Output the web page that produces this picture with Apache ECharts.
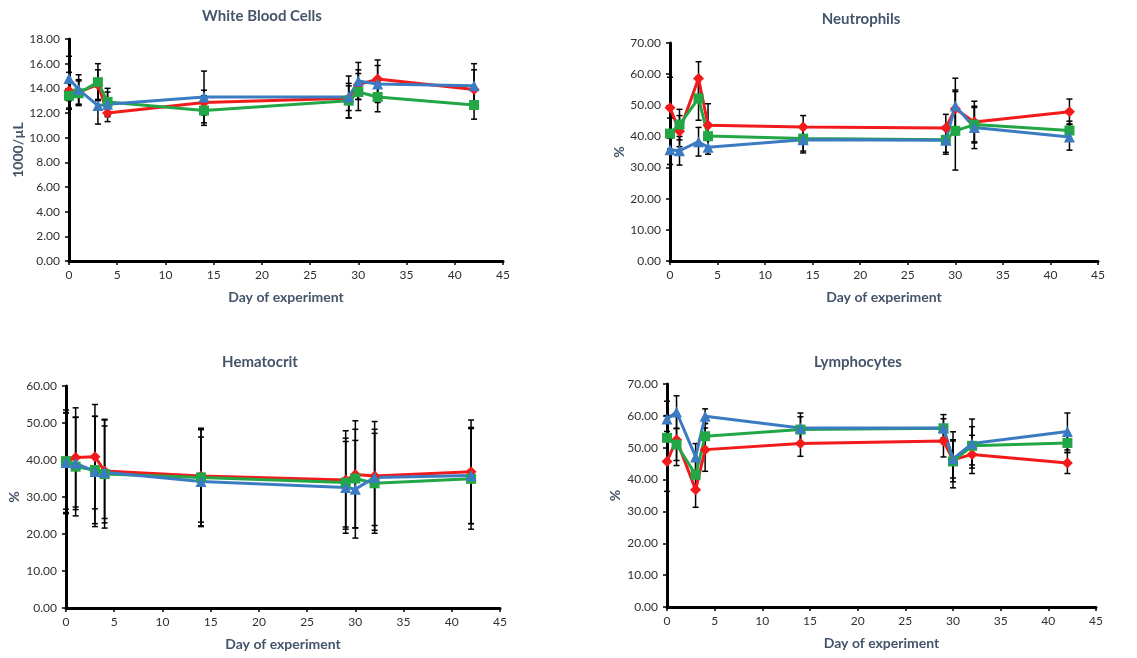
<!DOCTYPE html>
<html><head><meta charset="utf-8">
<script src="https://cdn.jsdelivr.net/npm/echarts@6/dist/echarts.min.js"></script>
<style>html,body{margin:0;padding:0;background:#fff}#c{width:1137px;height:658px}</style>
</head><body><div id="c"></div><script>
// Days of experiment (x values)
const days = [0, 1, 3, 4, 14, 29, 30, 32, 42];

// White Blood Cells (1000/µL)
const wbcRed   = [13.8, 13.7, 14.3, 12.0, 12.85, 13.2, 14.3, 14.75, 13.9];
const wbcGreen = [13.4, 13.6, 14.5, 12.9, 12.2, 13.0, 13.7, 13.3, 12.65];
const wbcBlue  = [14.8, 13.9, 12.6, 12.7, 13.3, 13.3, 14.6, 14.35, 14.2];
const wbcRedErr   = [1.5, 1.0, 1.2, 0.7, 1.0, 1.0, 1.2, 1.55, 1.6];
const wbcGreenErr = [1.0, 1.0, 1.5, 1.1, 1.2, 1.4, 1.5, 1.2, 1.15];
const wbcBlueErr  = [1.8, 1.2, 1.5, 1.0, 2.1, 1.7, 1.5, 1.5, 1.8];

// Neutrophils (%)
const neuRed   = [49.2, 41.7, 58.6, 43.6, 43.0, 42.7, 48.9, 44.6, 47.9];
const neuGreen = [40.9, 43.8, 52.2, 40.1, 39.3, 38.9, 41.8, 43.8, 41.9];
const neuBlue  = [35.7, 35.4, 38.3, 36.5, 38.9, 38.8, 49.8, 42.9, 39.8];
const neuRedErr   = [9.8, 5.0, 5.4, 6.9, 3.7, 4.4, 6.0, 6.7, 4.1];
const neuGreenErr = [5.0, 4.9, 7.0, 4.0, 4.0, 4.0, 12.6, 5.5, 3.0];
const neuBlueErr  = [4.7, 4.6, 4.6, 2.2, 4.2, 4.5, 8.9, 6.8, 4.2];

// Hematocrit (%)
const hctRed   = [39.5, 40.7, 40.9, 37.0, 35.7, 34.6, 36.1, 35.7, 36.8];
const hctGreen = [39.7, 38.2, 37.3, 36.2, 35.3, 33.9, 35.0, 33.7, 34.9];
const hctBlue  = [39.3, 39.1, 36.9, 36.7, 34.2, 32.6, 32.1, 35.3, 35.8];
const hctRedErr   = [14.0, 13.4, 14.1, 14.0, 12.5, 13.3, 14.5, 14.7, 14.0];
const hctGreenErr = [13.0, 13.3, 14.5, 14.6, 13.3, 12.0, 13.3, 13.5, 13.6];
const hctBlueErr  = [13.5, 12.5, 14.9, 12.5, 12.0, 12.4, 13.2, 13.0, 13.0];

// Lymphocytes (%)
const lymRed   = [45.7, 52.5, 36.8, 49.4, 51.3, 52.1, 46.2, 47.9, 45.2];
const lymGreen = [53.1, 51.0, 41.5, 53.6, 55.7, 56.1, 45.7, 50.6, 51.5];
const lymBlue  = [59.0, 61.2, 47.1, 59.9, 56.2, 56.2, 46.5, 51.3, 55.1];
const lymRedErr   = [9.4, 8.1, 5.5, 6.8, 4.0, 5.0, 8.8, 6.0, 3.3];
const lymGreenErr = [7.0, 5.0, 5.0, 4.0, 4.0, 3.0, 6.4, 6.0, 3.0];
const lymBlueErr  = [5.6, 5.1, 4.2, 2.3, 4.7, 4.2, 6.0, 7.7, 5.8];

const titles = ['White Blood Cells', 'Neutrophils', 'Hematocrit', 'Lymphocytes'];
const yNames = ['1000/µL', '%', '%', '%'];
const yMax = [18, 70, 60, 70];
const yInterval = [2, 10, 10, 10];
const xTicksMax = 45;

const panels = [
  {red: wbcRed, green: wbcGreen, blue: wbcBlue, rErr: wbcRedErr, gErr: wbcGreenErr, bErr: wbcBlueErr},
  {red: neuRed, green: neuGreen, blue: neuBlue, rErr: neuRedErr, gErr: neuGreenErr, bErr: neuBlueErr},
  {red: hctRed, green: hctGreen, blue: hctBlue, rErr: hctRedErr, gErr: hctGreenErr, bErr: hctBlueErr},
  {red: lymRed, green: lymGreen, blue: lymBlue, rErr: lymRedErr, gErr: lymGreenErr, bErr: lymBlueErr}
];

// layout (pixels)
const grids = [
  {left: 69, right: 634, top: 39, bottom: 397},
  {left: 670, right: 39, top: 43, bottom: 397},
  {left: 66, right: 637, top: 386, bottom: 50},
  {left: 667, right: 41, top: 384, bottom: 51}
];
const titlePos = [[257, 4], [856, 7], [255, 350], [853, 350]];
const yNameGap = [44, 43, 45, 45];

const FONT = 'Lato';
const NAVY = '#44546A';
const COLORS = {red: '#F21A1A', green: '#22A646', blue: '#3A7BC2'};
const SYMBOLS = {red: 'diamond', green: 'rect', blue: 'triangle'};
const SIZES = {red: 11, green: 10, blue: 11};

function errRender(params, api) {
  const x = api.value(0), lo = api.value(1), hi = api.value(2);
  const p1 = api.coord([x, hi]), p2 = api.coord([x, lo]);
  const w = 3;
  const st = {stroke: '#000', lineWidth: 1.5};
  return {type: 'group', children: [
    {type: 'line', shape: {x1: p1[0], y1: p1[1], x2: p2[0], y2: p2[1]}, style: st},
    {type: 'line', shape: {x1: p1[0] - w, y1: p1[1], x2: p1[0] + w, y2: p1[1]}, style: st},
    {type: 'line', shape: {x1: p2[0] - w, y1: p2[1], x2: p2[0] + w, y2: p2[1]}, style: st}
  ]};
}

const option = {
  animation: false,
  backgroundColor: '#fff',
  textStyle: {fontFamily: FONT},
  title: titles.map((t, i) => ({
    text: t, left: titlePos[i][0], top: titlePos[i][1], textAlign: 'center',
    textStyle: {fontFamily: FONT, fontSize: 15, fontWeight: 'bold', color: NAVY}
  })),
  grid: grids.map(g => Object.assign({containLabel: false}, g)),
  xAxis: grids.map((g, i) => ({
    type: 'value', gridIndex: i, min: 0, max: xTicksMax, interval: 5,
    name: 'Day of experiment', nameLocation: 'middle', nameGap: 29,
    nameTextStyle: {fontFamily: FONT, fontSize: 14, fontWeight: 'bold', color: NAVY},
    axisLine: {lineStyle: {color: '#000', width: 3}},
    axisTick: {show: true, length: 4, lineStyle: {color: '#000', width: 1.5}},
    axisLabel: {fontFamily: FONT, fontSize: 12, color: '#303030', margin: 8},
    splitLine: {show: false}
  })),
  yAxis: grids.map((g, i) => ({
    type: 'value', gridIndex: i, min: 0, max: yMax[i], interval: yInterval[i],
    name: yNames[i], nameLocation: 'middle', nameGap: yNameGap[i], nameRotate: 90,
    nameTextStyle: {fontFamily: FONT, fontSize: 14, fontWeight: 'bold', color: NAVY},
    axisLine: {show: true, lineStyle: {color: '#000', width: 3}},
    axisTick: {show: true, length: 4, lineStyle: {color: '#000', width: 1.5}},
    axisLabel: {fontFamily: FONT, fontSize: 12, color: '#303030', margin: 9,
      formatter: v => v.toFixed(2)},
    splitLine: {show: false}
  })),
  series: []
};

panels.forEach((p, i) => {
  ['red', 'green', 'blue'].forEach(k => {
    const vals = p[k];
    const errs = p[k[0] + 'Err'];
    option.series.push({
      type: 'custom', xAxisIndex: i, yAxisIndex: i, z: 3,
      renderItem: errRender,
      encode: {x: 0, y: [1, 2]},
      data: days.map((d, j) => [d, vals[j] - errs[j], vals[j] + errs[j]])
    });
  });
  ['red', 'green', 'blue'].forEach(k => {
    option.series.push({
      type: 'line', xAxisIndex: i, yAxisIndex: i, z: 4,
      data: days.map((d, j) => [d, p[k][j]]),
      symbol: SYMBOLS[k], symbolSize: SIZES[k],
      lineStyle: {color: COLORS[k], width: 3},
      itemStyle: {color: COLORS[k]}
    });
  });
});

const chart = echarts.init(document.getElementById('c'), null, {renderer: 'canvas'});
chart.setOption(option);
</script></body></html>
